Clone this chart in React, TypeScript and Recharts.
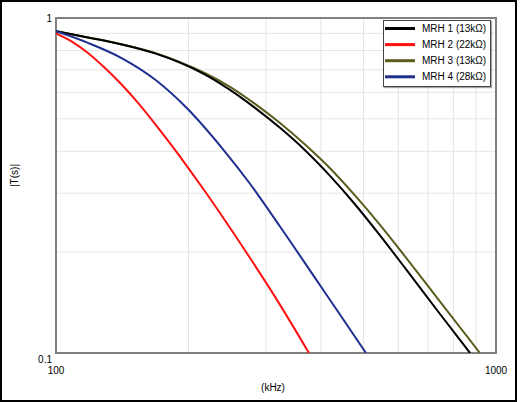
import {
  LineChart,
  Line,
  XAxis,
  YAxis,
  CartesianGrid,
  Legend,
  ReferenceArea,
} from 'recharts';

// (kHz, |T(s)|)
const mrh1Freq = [100, 118.2, 141.3, 167.9, 191.3, 218.2, 248.6, 283.3, 322.9, 368.1, 419.5, 478.0, 544.9, 621.1, 736.3, 872.9];
const mrh1Gain = [0.913, 0.875, 0.834, 0.784, 0.736, 0.678, 0.61, 0.539, 0.47, 0.403, 0.338, 0.278, 0.2244, 0.1795, 0.1337, 0.1];

const mrh2Freq = [100, 108.7, 118.2, 129.2, 141.3, 153.6, 167.9, 183.5, 201.6, 218.2, 242.2, 276.0, 314.7, 375.8];
const mrh2Gain = [0.9, 0.85, 0.786, 0.709, 0.631, 0.558, 0.483, 0.415, 0.351, 0.3034, 0.2486, 0.1921, 0.1471, 0.1];

const mrh3Freq = [100, 118.2, 141.3, 167.9, 191.3, 218.2, 248.6, 283.3, 322.9, 368.1, 419.5, 478.0, 544.9, 621.1, 736.3, 919.5];
const mrh3Gain = [0.913, 0.875, 0.834, 0.786, 0.738, 0.684, 0.623, 0.554, 0.486, 0.419, 0.356, 0.2954, 0.2412, 0.1943, 0.1456, 0.1];

const mrh4Freq = [100, 118.2, 141.3, 167.9, 199.5, 238.4, 276.0, 322.9, 398.1, 449.0, 506.4];
const mrh4Gain = [0.913, 0.843, 0.758, 0.655, 0.534, 0.409, 0.32, 0.2386, 0.1593, 0.1263, 0.1];

const xTicks = [100, 200, 300, 400, 500, 600, 700, 800, 900, 1000];
const yTicks = [0.1, 0.2, 0.3, 0.4, 0.5, 0.6, 0.7, 0.8, 0.9, 1];
const xLabelTicks = [100, 1000];
const yLabelTicks = [0.1, 1];

const toPoints = (freq: number[], gain: number[]) =>
  freq.map((f, i) => ({ f, v: gain[i] }));

const series = [
  { name: 'MRH 1 (13kΩ)', color: '#000000', data: toPoints(mrh1Freq, mrh1Gain) },
  { name: 'MRH 2 (22kΩ)', color: '#ff1010', data: toPoints(mrh2Freq, mrh2Gain) },
  { name: 'MRH 3 (13kΩ)', color: '#5c5c1c', data: toPoints(mrh3Freq, mrh3Gain) },
  { name: 'MRH 4 (28kΩ)', color: '#1f2f8f', data: toPoints(mrh4Freq, mrh4Gain) },
];

// MRH 3 sits under MRH 1 where they overlap
const drawOrder = [2, 0, 1, 3];

const font = '"Liberation Sans", Arial, sans-serif';

const XTick = ({ x, y, payload }: any) =>
  xLabelTicks.includes(payload.value) ? (
    <text x={x} y={y + 17} textAnchor="middle" dominantBaseline="central" fontSize={10} fontFamily={font} fill="#000">
      {payload.value}
    </text>
  ) : null;

const YTick = ({ x, y, payload }: any) =>
  yLabelTicks.includes(payload.value) ? (
    <text x={x} y={payload.value === 1 ? y : y + 6} textAnchor="end" dominantBaseline="central" fontSize={10} fontFamily={font} fill="#000">
      {payload.value}
    </text>
  ) : null;

const XTitle = ({ viewBox }: any) => (
  <text x={viewBox.x + viewBox.width / 2 - 3} y={viewBox.y + 34} textAnchor="middle" dominantBaseline="central" fontSize={10} fontFamily={font} fill="#000">
    (kHz)
  </text>
);

const YTitle = ({ viewBox }: any) => {
  const cx = viewBox.x - 2;
  const cy = viewBox.y + viewBox.height / 2 - 10;
  return (
    <text x={cx} y={cy} transform={`rotate(-90, ${cx}, ${cy})`} textAnchor="middle" dominantBaseline="central" fontSize={10} fontFamily={font} fill="#000">
      |T(s)|
    </text>
  );
};

const LegendBox = () => (
  <div
    style={{
      width: 108,
      height: 67,
      boxSizing: 'border-box',
      border: '1px solid #444',
      background: '#fff',
      boxShadow: '1px 1px 1px rgba(0,0,0,0.35)',
    }}
  >
    <svg width={106} height={65} style={{ display: 'block' }}>
      {series.map((s, i) => {
        const cy = 7.5 + 16.1 * i;
        return (
          <g key={s.name}>
            <line x1={1} x2={31} y1={cy} y2={cy} stroke={s.color} strokeWidth={3} />
            <text x={38} y={cy} dominantBaseline="central" fontSize={10} fontFamily={font} fill="#000">
              {s.name}
            </text>
          </g>
        );
      })}
    </svg>
  </div>
);

export default function App() {
  return (
    <div style={{ position: 'absolute', left: 0, top: 0, width: 517, height: 402, background: '#fff' }}>
      <LineChart width={517} height={402} margin={{ top: 18, right: 21, bottom: 19, left: 16 }}>
        <CartesianGrid stroke="#e4e4e4" strokeWidth={1} />
        <XAxis
          dataKey="f"
          type="number"
          scale="log"
          domain={[100, 1000]}
          ticks={xTicks}
          interval={0}
          allowDataOverflow
          axisLine={false}
          tickLine={false}
          tickSize={0}
          tickMargin={0}
          height={30}
          tick={<XTick />}
          label={<XTitle />}
        />
        <YAxis
          type="number"
          scale="log"
          domain={[0.1, 1]}
          ticks={yTicks}
          interval={0}
          allowDataOverflow
          axisLine={false}
          tickLine={false}
          tickSize={0}
          tickMargin={4}
          width={40}
          tick={<YTick />}
          label={<YTitle />}
        />
        {drawOrder.map((i) => (
          <Line
            key={series[i].name}
            data={series[i].data}
            dataKey="v"
            name={series[i].name}
            type="monotone"
            stroke={series[i].color}
            strokeWidth={2}
            dot={false}
            activeDot={false}
            isAnimationActive={false}
          />
        ))}
        <ReferenceArea x1={100} x2={1000} y1={0.1} y2={1} fill="none" stroke="#808080" strokeWidth={2} />
        <Legend
          layout="horizontal"
          verticalAlign="middle"
          align="center"
          content={() => <LegendBox />}
          wrapperStyle={{ left: 383, top: 20, width: 108, height: 67 }}
        />
      </LineChart>
      <div
        style={{
          position: 'absolute',
          inset: 0,
          border: '2px solid #000',
          pointerEvents: 'none',
        }}
      />
    </div>
  );
}
